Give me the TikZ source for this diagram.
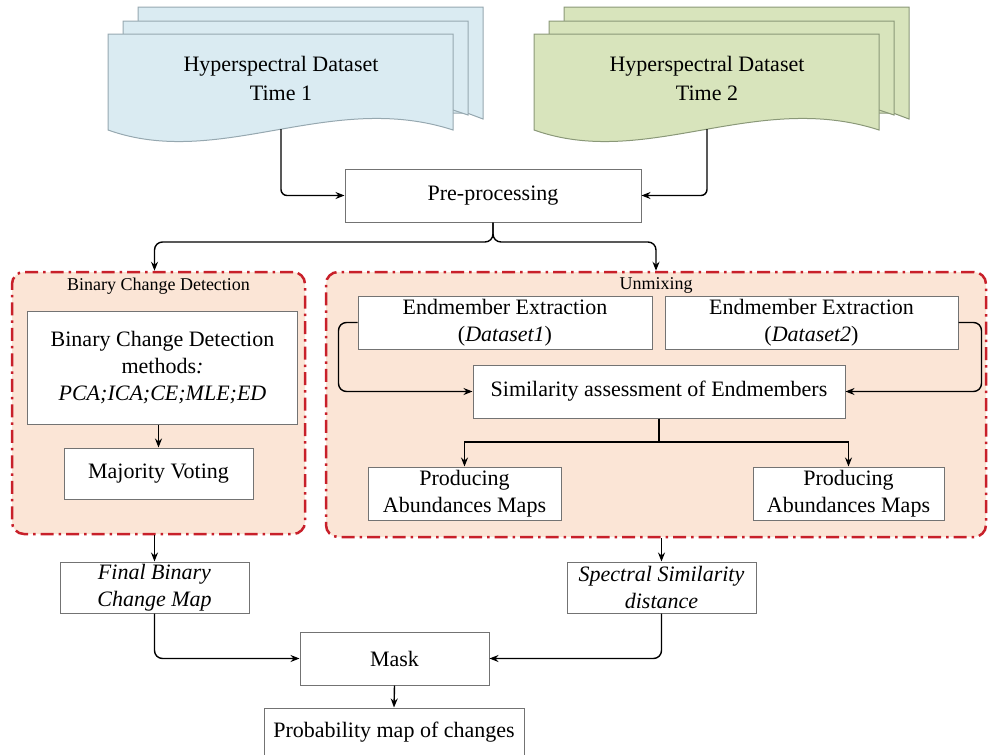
\documentclass[tikz,border=0pt]{standalone}
\usepackage{fontspec}
\setmainfont{Liberation Serif}
\usetikzlibrary{arrows.meta,positioning}
\definecolor{docblue}{RGB}{218,235,242}
\definecolor{docbluel}{RGB}{150,168,176}
\definecolor{docgreen}{RGB}{216,228,188}
\definecolor{docgreenl}{RGB}{138,152,120}
\definecolor{peach}{RGB}{251,229,214}
\definecolor{regred}{RGB}{200,32,42}
\begin{document}
\begin{tikzpicture}[x=1pt,y=-1pt,
   font=\fontsize{22}{27}\selectfont,
   sheet/.style={line width=1pt},
   box/.style={draw=black!55,line width=1pt,fill=white,align=center,inner sep=0pt,minimum height=53pt},
   region/.style={draw=regred,fill=peach,line width=2.5pt,rounded corners=12pt,dash pattern=on 13pt off 5pt on 2.5pt off 5pt,inner sep=0pt},
   title/.style={font=\fontsize{18}{21}\selectfont,inner sep=0pt},
   flow/.style={-{Stealth[length=9pt,width=7pt]},line width=1.4pt}]
\useasboundingbox (0,0) rectangle (989,755);
\foreach \dx/\col/\t in {0/docblue/1,426/docgreen/2}{
\begin{scope}[xshift=\dx]
\draw[sheet,draw=\col l,fill=\col] (138,7) -- (483,7) -- (483,119) -- (467,113) -- (138,113) -- cycle;
\draw[sheet,draw=\col l,fill=\col] (123,21) -- (468,21) -- (468,115) -- (453,110) -- (123,110) -- cycle;
\draw[sheet,draw=\col l,fill=\col] (108,34) -- (453,34) -- (453,130) .. controls (330,90) and (220,170) .. (108,130) -- cycle;
\node[align=center,font=\fontsize{22}{29}\selectfont] (ds\t) at (281,78) {Hyperspectral Dataset\\Time \t};
\coordinate (ds\t b) at (281,129);
\end{scope}
}
\node[box,minimum width=296pt] (pre) at (493,195.5) {Pre-processing};
\node[region,minimum width=293pt,minimum height=262pt] (bcd) at (158.5,403) {};
\node[region,minimum width=660pt,minimum height=265pt] (unm) at (656,404.5) {};
\node[title,below=7pt of bcd.north] (bcdt) {Binary Change Detection};
\node[title,below=7pt of unm.north] (unmt) {Unmixing};
\node[box,minimum width=270pt,minimum height=113pt] (bcm) at (162.5,367.5) {Binary Change Detection\\methods\textit{:}\\\textit{PCA;ICA;CE;MLE;ED}};
\node[box,minimum width=189pt,minimum height=51pt] (mv) at (158.5,473.5) {Majority Voting};
\node[box,minimum width=294pt] (em1) at (505,322.5) {Endmember Extraction\\(\textit{Dataset1})};
\node[box,minimum width=293pt] (em2) at (811.5,322.5) {Endmember Extraction\\(\textit{Dataset2})};
\node[box,minimum width=372pt] (sim) at (659,391.5) {Similarity assessment of Endmembers};
\node[box,minimum width=193pt] (pa1) at (464.5,493.5) {Producing\\Abundances Maps};
\node[box,minimum width=191pt] (pa2) at (848.5,493.5) {Producing\\Abundances Maps};
\node[box,minimum width=189pt,minimum height=51pt] (fbm) at (154.5,587.5) {\textit{Final Binary}\\\textit{Change Map}};
\node[box,minimum width=189pt,minimum height=51pt] (ssd) at (661.5,587.5) {\textit{Spectral Similarity}\\\textit{distance}};
\node[box,minimum width=189pt] (mask) at (394.5,658.5) {Mask};
\node[box,minimum width=260pt,minimum height=49pt] (prob) at (394,732.5) {Probability map of changes};
\coordinate (fork) at (493,242);
\coordinate (split) at (659,442);
\draw[flow,rounded corners=6pt] (ds1b) |- (pre.west);
\draw[flow,rounded corners=6pt] (ds2b) |- (pre.east);
\draw[flow,rounded corners=8pt] (pre.south) |- (fork -| fbm.north) -- (fbm.north |- bcd.north);
\draw[flow,rounded corners=8pt] (pre.south) |- (fork -| unm.north) -- (unm.north);
\draw[flow] (mv.north |- bcm.south) -- (mv.north);
\draw[flow,rounded corners=8pt] (em1.west) -- ++(-19,0) |- (sim.west);
\draw[flow,rounded corners=8pt] (em2.east) -- ++(23,0) |- (sim.east);
\draw[flow] (sim.south) |- (split -| pa1.north) -- (pa1.north);
\draw[flow] (sim.south) |- (split -| pa2.north) -- (pa2.north);
\draw[flow] (fbm.north |- bcd.south) -- (fbm.north);
\draw[flow] (ssd.north |- unm.south) -- (ssd.north);
\draw[flow,rounded corners=8pt] (fbm.south) |- (mask.west);
\draw[flow,rounded corners=8pt] (ssd.south) |- (mask.east);
\draw[flow] (mask.south) -- (prob.north);
\end{tikzpicture}
\end{document}
